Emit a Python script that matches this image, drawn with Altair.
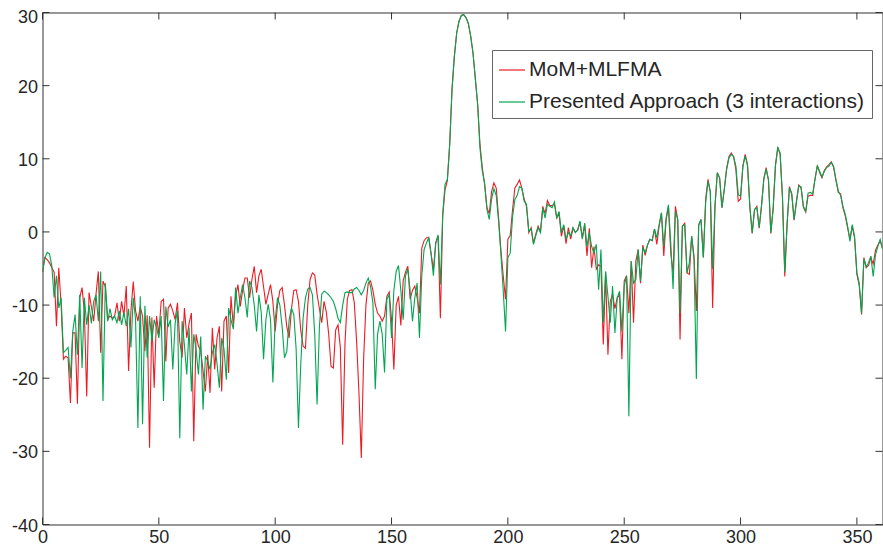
import altair as alt
import pandas as pd

# ---- data ----
angles = list(range(0, 362))

mom_mlfma = [
    -5.5, -3.5, -3.8, -4.2, -4.9, -5.5, -12.9, -4.9, -10.0, -17.4,
    -17.0, -17.2, -23.4, -13.8, -13.8, -23.5, -9.0, -7.6, -11.0, -22.5,
    -8.3, -10.2, -12.2, -8.5, -5.4, -16.5, -6.7, -7.5, -12.0, -11.5,
    -11.8, -11.5, -9.7, -12.2, -9.5, -11.5, -7.4, -19.0, -10.8, -6.8,
    -10.8, -12.2, -10.2, -11.5, -16.3, -11.4, -29.5, -11.7, -21.3, -11.5,
    -14.0, -9.5, -9.2, -17.7, -10.4, -9.9, -10.8, -12.0, -9.7, -15.0,
    -17.2, -10.4, -14.5, -12.5, -11.1, -28.6, -14.0, -15.6, -16.3, -19.0,
    -21.8, -16.8, -22.0, -13.1, -18.8, -14.5, -12.9, -21.8, -12.2, -11.5,
    -19.3, -8.8, -12.9, -8.8, -7.2, -10.2, -8.0, -6.3, -6.3, -9.0,
    -6.5, -4.7, -8.3, -6.0, -5.1, -7.5, -9.9, -8.5, -7.2, -9.5,
    -13.6, -10.0, -8.0, -7.6, -10.0, -13.0, -14.5, -10.5, -8.0, -7.9,
    -9.5, -13.5, -15.6, -15.9, -10.0, -6.5, -5.6, -5.9, -8.5, -10.5,
    -12.4, -9.5, -11.0, -14.0, -18.4, -18.6, -13.4, -12.7, -15.8, -29.1,
    -15.2, -9.2, -8.0, -7.9, -9.7, -15.0, -22.0, -30.9, -17.4, -10.0,
    -7.0, -6.7, -8.0, -9.9, -11.1, -11.5, -12.2, -11.5, -8.8, -8.2,
    -12.0, -18.8, -10.0, -8.8, -12.8, -6.7, -5.5, -4.7, -9.2, -8.0,
    -7.4, -9.0, -11.1, -2.2, -1.2, -0.8, -0.8, -3.0, -5.1, -1.5,
    -0.6, -11.8, 2.2, 5.8, 7.0, 12.0, 19.5, 24.0, 27.2, 28.8,
    29.6, 29.7, 29.3, 28.5, 26.8, 24.5, 21.0, 17.5, 12.0, 8.8,
    6.5, 3.3, 2.5, 5.5, 6.7, 6.0, 2.0, -2.5, -6.0, -9.2,
    -1.0, -0.5, 3.0, 6.0, 6.5, 7.1, 6.0, 4.5, 3.5, -0.1,
    0.6, -1.5, -0.3, 0.8, 0.0, 3.5, 2.5, 4.3, 3.6, 3.6,
    3.8, 1.9, 2.5, -0.6, 0.8, -1.6, 0.6, -1.0, 0.5, 0.0,
    0.2, 1.3, -0.8, 1.0, -3.3, 0.5, -4.9, -2.0, -5.1, -4.5,
    -4.7, -15.4, -5.6, -16.8, -9.5, -8.5, -10.5, -9.0, -8.6, -17.4,
    -6.7, -6.0, -11.1, -4.0, -12.4, -4.0, -2.4, -7.0, -1.8, -3.2,
    -1.8, -1.0, -1.2, 0.4, -1.7, 0.8, 2.6, -3.3, 1.6, 3.5,
    -2.9, -5.6, 3.5, 1.7, -14.7, 0.8, 1.2, -5.6, -5.8, -0.6,
    -3.3, -10.8, 0.9, 1.7, -3.5, 4.5, 7.2, 5.5, -10.4, 3.5,
    8.1, 7.4, 3.3, 5.8, 8.7, 10.3, 10.8, 10.3, 8.5, 4.2,
    4.5, 9.0, 10.6, 9.2, 3.3, -0.2, 3.0, 3.5, 0.5, 3.6,
    7.3, 8.8, 7.0, -0.2, 3.2, 9.2, 11.6, 10.6, 4.7, -6.1,
    1.0, 6.2, 5.1, 1.6, 4.2, 6.4, 6.0, 3.4, 2.7, 4.9,
    5.0, 5.0, 7.3, 9.1, 8.1, 7.4, 8.4, 8.9, 9.2, 9.6,
    8.8, 7.0, 5.4, 5.2, 3.3, 2.2, 0.6, -1.0, 0.8, -0.9,
    -5.8, -7.3, -11.3, -3.5, -4.9, -4.6, -3.5, -4.4, -2.5, -1.8,
    -1.2, -2.2,
]

presented = [
    -5.5, -3.6, -2.8, -3.0, -4.6, -9.0, -6.0, -10.4, -9.0, -16.5,
    -16.2, -15.8, -20.0, -13.6, -11.3, -16.8, -8.6, -18.6, -9.0, -12.7,
    -10.0, -12.5, -9.5, -8.6, -12.2, -5.4, -23.1, -7.0, -12.2, -10.5,
    -12.0, -11.5, -12.4, -10.8, -12.7, -11.0, -12.9, -10.5, -15.8, -9.0,
    -12.0, -26.8, -8.8, -26.3, -10.1, -17.2, -11.5, -14.9, -12.0, -13.1,
    -14.5, -11.5, -23.1, -10.2, -13.0, -12.0, -18.8, -12.5, -10.8, -28.2,
    -12.2, -15.5, -19.5, -13.1, -21.8, -14.0, -16.0, -19.5, -14.3, -24.3,
    -17.0, -17.7, -18.8, -16.5, -15.4, -18.0, -21.3, -14.5, -16.0, -20.2,
    -10.4, -12.0, -13.3, -7.6, -11.1, -9.0, -7.2, -9.0, -11.7, -6.7,
    -7.6, -10.0, -13.6, -8.6, -11.0, -17.4, -12.0, -9.9, -12.0, -20.6,
    -12.0, -9.0, -10.0, -13.0, -17.2, -16.3, -12.0, -10.4, -11.3, -16.0,
    -26.8, -18.0, -11.8, -9.0, -7.8, -7.6, -8.6, -14.0, -23.6, -13.0,
    -8.5, -8.1, -8.3, -8.6, -9.0, -9.5, -10.5, -11.8, -12.4, -10.0,
    -8.3, -8.2, -8.3, -8.3, -7.8, -7.6, -8.0, -8.6, -8.0, -7.0,
    -6.3, -7.5, -9.7, -21.5, -14.0, -12.2, -14.0, -19.2, -9.2, -8.6,
    -14.5, -8.0, -5.4, -4.6, -8.0, -12.0, -6.0, -5.1, -8.0, -12.2,
    -9.0, -7.0, -14.5, -6.0, -2.4, -1.5, -0.8, -3.0, -6.0, -1.5,
    -0.4, -7.2, 2.5, 6.5, 7.2, 12.0, 19.5, 24.0, 27.2, 28.8,
    29.6, 29.7, 29.3, 28.5, 26.8, 24.5, 21.0, 17.5, 11.5, 8.3,
    6.7, 3.1, 1.7, 4.5, 5.9, 5.0, 1.5, -3.0, -8.0, -13.6,
    -3.5, -2.9, 2.0, 4.4, 5.0, 6.2, 6.0, 4.2, 3.8, 0.1,
    0.4, -1.7, -0.5, 0.6, -0.1, 3.3, 1.9, 3.8, 3.5, 3.3,
    4.1, 1.9, 2.8, -0.1, 1.0, -1.0, -0.1, -0.5, 0.6, -0.1,
    0.3, 1.5, -1.0, 1.2, -2.0, -0.1, -2.0, -2.9, -1.7, -7.9,
    -2.4, -12.4, -5.4, -8.8, -12.4, -7.4, -13.8, -9.0, -8.1, -13.6,
    -7.4, -6.0, -25.2, -4.0, -7.0, -6.5, -2.4, -6.7, -2.2, -2.8,
    -1.8, -1.0, -1.2, 0.4, -0.8, 1.0, 2.6, -2.0, 1.9, 3.7,
    -1.5, -7.8, 2.8, 1.7, -11.1, 0.8, 1.0, -5.6, -4.2, -0.6,
    -3.8, -20.1, 1.0, 1.7, -3.5, 4.0, 6.9, 5.5, -5.1, 3.5,
    8.1, 7.4, 3.3, 5.8, 8.5, 10.1, 10.6, 10.3, 9.0, 5.1,
    4.9, 9.0, 10.4, 9.0, 3.5, -0.1, 3.1, 3.3, 0.6, 3.5,
    7.2, 8.6, 7.2, -0.1, 3.1, 9.0, 11.5, 10.8, 4.9, -5.5,
    1.2, 6.0, 5.3, 1.7, 4.0, 6.3, 6.2, 3.5, 2.8, 5.3,
    5.4, 5.2, 7.2, 9.0, 8.3, 7.5, 8.3, 8.8, 9.0, 9.5,
    9.0, 7.2, 5.6, 5.0, 3.5, 2.4, 0.8, -1.3, 1.0, -0.6,
    -5.6, -7.0, -11.1, -3.7, -4.8, -4.2, -3.3, -6.1, -3.1, -2.0,
    -1.0, -2.4,
]

series_names = ["MoM+MLFMA", "Presented Approach (3 interactions)"]
series_colors = ["#ec1c24", "#00a651"]
x_ticks = [0, 50, 100, 150, 200, 250, 300, 350]
y_ticks = [-40, -30, -20, -10, 0, 10, 20, 30]
x_domain = [0, 361]
y_domain = [-40, 30]

# ---- build table ----
n = len(angles)
df = pd.DataFrame({
    "angle": angles + angles,
    "value": mom_mlfma + presented,
    "series": [series_names[0]] * n + [series_names[1]] * n,
})

FONT = "Liberation Sans"
TXT = "#262626"
W, H = 840, 512

xscale = alt.Scale(domain=x_domain, nice=False, zero=False)
yscale = alt.Scale(domain=y_domain, nice=False, zero=False)

xaxis = alt.Axis(values=x_ticks, ticks=False, tickSize=0, domain=False, grid=False,
                 labelFontSize=18, labelFont=FONT, labelColor=TXT, labelPadding=4,
                 labelExpr="'' + datum.value",
                 title=None, labelFlush=False)
yaxis = alt.Axis(values=y_ticks, ticks=False, tickSize=0, domain=False, grid=False,
                 labelFontSize=18, labelFont=FONT, labelColor=TXT, labelPadding=5,
                 labelExpr="'' + datum.value",
                 labelOffset={"condition": {"test": "datum.value == 30", "value": 4.5},
                              "value": 1.5},
                 title=None, labelFlush=False)

lines = alt.Chart(df).mark_line(strokeWidth=1.1, clip=True).encode(
    x=alt.X("angle:Q", scale=xscale, axis=xaxis),
    y=alt.Y("value:Q", scale=yscale, axis=yaxis),
    color=alt.Color(
        "series:N",
        scale=alt.Scale(domain=series_names, range=series_colors),
        sort=series_names,
        legend=alt.Legend(
            title=None, orient="none", legendX=449.5, legendY=37.5,
            direction="vertical",
            symbolType="stroke", symbolSize=676, symbolStrokeWidth=1.2,
            labelFontSize=21, labelFont=FONT, labelColor=TXT, labelLimit=600,
            labelOffset=3, padding=6, rowPadding=8,
            fillColor="white", strokeColor="#666666",
        ),
    ),
)

xt = pd.DataFrame({"t": x_ticks})
yt = pd.DataFrame({"t": y_ticks})
TICK = 7
tick_style = dict(color="#333333", strokeWidth=1)

x_bottom = alt.Chart(xt).mark_rule(**tick_style).encode(
    x=alt.X("t:Q", scale=xscale, axis=xaxis), y=alt.value(H), y2=alt.value(H - TICK))
x_top = alt.Chart(xt).mark_rule(**tick_style).encode(
    x=alt.X("t:Q", scale=xscale, axis=xaxis), y=alt.value(0), y2=alt.value(TICK))
y_left = alt.Chart(yt).mark_rule(**tick_style).encode(
    y=alt.Y("t:Q", scale=yscale, axis=yaxis), x=alt.value(0), x2=alt.value(TICK))
y_right = alt.Chart(yt).mark_rule(**tick_style).encode(
    y=alt.Y("t:Q", scale=yscale, axis=yaxis), x=alt.value(W), x2=alt.value(W - TICK))

chart = alt.layer(lines, x_bottom, x_top, y_left, y_right).properties(
    width=W, height=H,
    autosize=alt.AutoSizeParams(type="none"),
    padding={"left": 42.5, "top": 12.5, "right": 0.5, "bottom": 26.5},
    background="white",
).configure_view(
    stroke="#333333", strokeWidth=1
)

chart.save("out.html", embed_options={"renderer": "svg", "actions": False})
